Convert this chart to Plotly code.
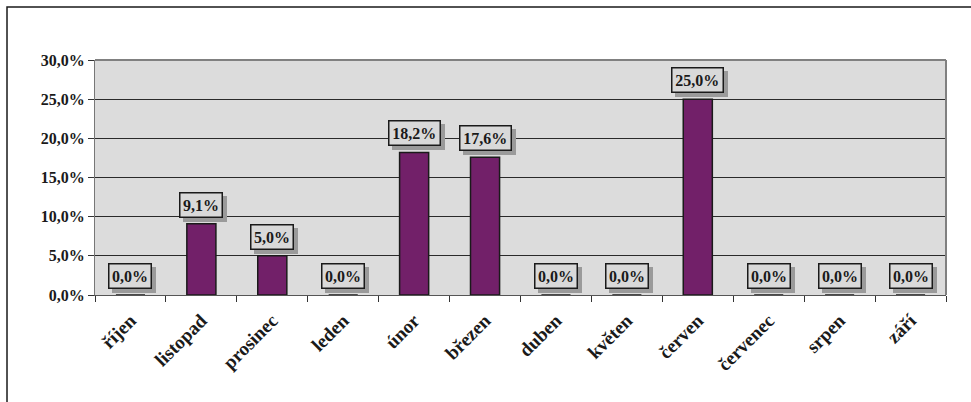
import plotly.graph_objects as go

months = ["říjen", "listopad", "prosinec", "leden", "únor", "březen",
          "duben", "květen", "červen", "červenec", "srpen", "září"]
values = [0.0, 9.1, 5.0, 0.0, 18.2, 17.6, 0.0, 0.0, 25.0, 0.0, 0.0, 0.0]
y_ticks = [0, 5, 10, 15, 20, 25, 30]
y_ticktext = [f"{t:.1f}".replace(".", ",") + "%" for t in y_ticks]

FONT = "Times New Roman, Liberation Serif, serif"

fig = go.Figure()
fig.add_trace(go.Bar(
    x=months, y=values, width=0.41,
    marker=dict(color="#722069", line=dict(color="#1a1a1a", width=1.5)),
    hoverinfo="skip",
))

annotations = []
for m, v in zip(months, values):
    label = f"{v:.1f}".replace(".", ",") + "%"
    w = 8.5 * len(label) + 2
    box = dict(x=m, y=v, xref="x", yref="y", showarrow=False,
               yanchor="bottom", width=w, height=18,
               borderwidth=1.5, borderpad=2.5)
    # drop shadow
    annotations.append(dict(
        box, text="&nbsp;", xshift=4, yshift=2,
        font=dict(family=FONT, size=16, color="#9a9a9a"),
        bgcolor="#9a9a9a", bordercolor="#9a9a9a",
    ))
    annotations.append(dict(
        box, text="<b>" + label + "</b>", yshift=6,
        font=dict(family=FONT, size=16, color="#1a1a1a"),
        bgcolor="#d9d9d9", bordercolor="#1a1a1a",
    ))

fig.update_layout(
    width=971, height=402,
    margin=dict(l=95, r=25, t=60, b=107, autoexpand=False),
    paper_bgcolor="white", plot_bgcolor="#dcdcdc",
    showlegend=False,
    font=dict(family=FONT, size=16, color="#1a1a1a"),
    annotations=annotations,
    xaxis=dict(
        tickangle=-45, ticks="outside", tickson="boundaries", ticklen=6,
        tickcolor="#333333", showline=True, linecolor="#555555", linewidth=1,
        tickfont=dict(family=FONT, size=19, color="#1a1a1a", weight="bold"),
        ticklabelstandoff=6,
        showgrid=False, automargin=False,
    ),
    yaxis=dict(
        range=[0, 30], tickvals=y_ticks, ticktext=y_ticktext,
        ticks="outside", ticklen=6, tickcolor="#333333",
        showline=True, linecolor="#777777", linewidth=1,
        gridcolor="#2a2a2a", gridwidth=1,
        tickfont=dict(family=FONT, size=16, color="#1a1a1a", weight="bold"),
        zeroline=False, automargin=False,
    ),
    shapes=[
        dict(type="rect", xref="paper", yref="paper",
             x0=-0.1034, x1=1.2, y0=-0.6, y1=1.2255,
             line=dict(color="#1a1a1a", width=1.5)),
        dict(type="line", xref="paper", yref="paper",
             x0=1, x1=1, y0=0, y1=1, line=dict(color="#808080", width=2)),
        dict(type="line", xref="paper", yref="paper",
             x0=0, x1=1, y0=1, y1=1, line=dict(color="#808080", width=2)),
    ],
)

fig.write_html("out.html", config={"displayModeBar": False},
               post_script="document.body.style.margin='0';")
